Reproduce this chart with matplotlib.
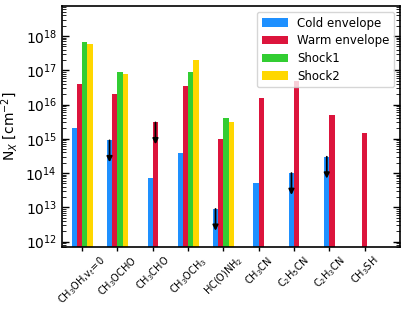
import numpy as np
import matplotlib
matplotlib.use("Agg")
import matplotlib.pyplot as plt
from matplotlib.ticker import LogLocator, NullFormatter

molecules = ["CH$_3$OH,v$_t$=0", "CH$_3$OCHO", "CH$_3$CHO", "CH$_3$OCH$_3$",
             "HC(O)NH$_2$", "CH$_3$CN", "C$_2$H$_5$CN", "C$_2$H$_3$CN", "CH$_3$SH"]
nan = np.nan
cold = [2e15, 9e14, 7e13, 3.8e14, 9e12, 5e13, 1e14, 3e14, nan]
warm = [4e16, 2e16, 3e15, 3.5e16, 1e15, 1.5e16, 5e16, 5e15, 1.5e15]
shock1 = [6.5e17, 9e16, nan, 9e16, 4e15, nan, nan, nan, nan]
shock2 = [6e17, 8e16, nan, 2e17, 3e15, nan, nan, nan, nan]
cold_ul = [False, True, False, False, True, False, True, True, False]
warm_ul = [False, False, True, False, False, False, False, False, False]

series = [("Cold envelope", cold, cold_ul, "#1E90FF"),
          ("Warm envelope", warm, warm_ul, "#DC143C"),
          ("Shock1", shock1, None, "#32CD32"),
          ("Shock2", shock2, None, "#FFD700")]

fig = plt.figure(figsize=(4.07, 3.13), dpi=100)
ax = fig.add_axes([0.152, 0.211, 0.831, 0.770])
for sp in ax.spines.values():
    sp.set_linewidth(1.2)
width = 0.15
x = np.arange(len(molecules))

# offsets: present bars centred on each tick
offsets = np.zeros((len(series), len(molecules)))
for j in range(len(molecules)):
    present = [k for k, s in enumerate(series) if not np.isnan(s[1][j])]
    n = len(present)
    for idx, k in enumerate(present):
        offsets[k, j] = (idx - (n - 1) / 2) * width

for k, (name, vals, ul, col) in enumerate(series):
    vals = np.array(vals, dtype=float)
    xpos = x + offsets[k]
    ax.bar(xpos, vals, width=width, color=col, label=name, bottom=1e10)
    if ul is not None:
        for j in range(len(molecules)):
            if ul[j]:
                ax.annotate("", xy=(xpos[j], vals[j] * 0.23), xytext=(xpos[j], vals[j]),
                            arrowprops=dict(arrowstyle="-|>", color="black", lw=1.3,
                                            mutation_scale=8, shrinkA=0, shrinkB=0))

ax.set_yscale("log")
ax.set_ylim(7e11, 7.5e18)
ax.set_xlim(-0.575, 9.0)
ax.set_xticks(x)
ax.set_xticklabels(molecules, rotation=45, ha="center", fontsize=7)
ax.yaxis.set_major_locator(LogLocator(base=10, numticks=20))
ax.yaxis.set_minor_locator(LogLocator(base=10, subs=np.arange(2, 10), numticks=20))
ax.yaxis.set_minor_formatter(NullFormatter())
ax.tick_params(axis="y", which="both", direction="in", left=True, right=True, labelsize=10)
ax.tick_params(axis="y", which="major", length=5, width=1.0)
ax.tick_params(axis="y", which="minor", length=3)
ax.tick_params(axis="x", which="major", direction="out", length=3, width=1.0, pad=2)
ax.set_ylabel("N$_X$ [cm$^{-2}$]", fontsize=10)
ax.legend(loc="upper right", fontsize=8.5, labelspacing=0.4, handlelength=2.2)

fig.savefig("out.png", dpi=100)
